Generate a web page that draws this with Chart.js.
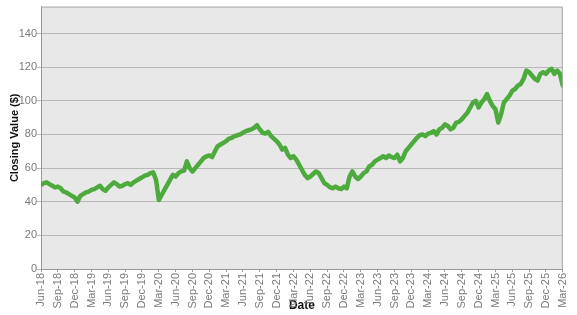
<!DOCTYPE html>
<html>
<head>
<meta charset="utf-8">
<script src="https://cdn.jsdelivr.net/npm/chart.js@4/dist/chart.umd.min.js"></script>
<style>
  html, body { margin: 0; padding: 0; background: #fff; }
  #chart { display: block; }
</style>
</head>
<body>
<canvas id="chart" width="577" height="315"></canvas>
<script>
// ── Data ──────────────────────────────────────────────────────────────
// quarter tick labels, one every 3 months starting Jun-18
const tickLabels = [
  'Jun-18', 'Sep-18', 'Dec-18', 'Mar-19', 'Jun-19', 'Sep-19', 'Dec-19', 'Mar-20',
  'Jun-20', 'Sep-20', 'Dec-20', 'Mar-21', 'Jun-21', 'Sep-21', 'Dec-21', 'Mar-22',
  'Jun-22', 'Sep-22', 'Dec-22', 'Mar-23', 'Jun-23', 'Sep-23', 'Dec-23', 'Mar-24',
  'Jun-24', 'Sep-24', 'Dec-24', 'Mar-25', 'Jun-25', 'Sep-25', 'Dec-25', 'Mar-26',
];

// y-axis tick values
const yTicks = [0, 20, 40, 60, 80, 100, 120, 140];

// closing values, two per month (1st and mid-month), Jun-18 .. Mar-26
const closing2018 = [50, 51, 51.5, 50.5, 49.5, 48.5, 49, 48, 46, 45.5, 44.5, 43.5, 42.5, 40];
const closing2019 = [43.5, 44.5, 45.5, 46, 47, 47.5, 48.5, 49.5, 47.5, 46.5, 48.5, 50,
                     51.5, 50.5, 49, 49.5, 50.5, 51, 50, 51.5, 52.5, 53.5, 54.5, 55.5];
const closing2020 = [56, 57, 57.5, 53, 41, 44, 47, 50, 53, 56, 55, 57,
                     58, 58.5, 64, 60, 58, 60, 62, 64, 66, 67, 67.5, 66.5];
const closing2021 = [70, 73, 74, 75, 76, 77.5, 78, 79, 79.5, 80, 81, 82,
                     82.5, 83, 84, 85.5, 83, 81, 80.5, 81.5, 79, 77.5, 76, 74];
const closing2022 = [71, 72, 68, 66, 67, 65, 62, 59, 56, 54, 55, 56.5,
                     58, 57, 54, 51, 50, 48.5, 48, 49, 48, 47.5, 49, 48];
const closing2023 = [55, 58, 55, 53.5, 55, 57, 58, 61, 62, 64, 65, 66,
                     67, 66, 67.5, 66.5, 66, 68, 64, 66, 70, 72, 74, 76];
const closing2024 = [78, 79.5, 80, 79, 80.5, 81, 82, 80, 83, 84, 86, 85,
                     83, 84, 87, 87.5, 89, 91, 93, 96, 99, 100, 96, 99];
const closing2025 = [101, 104, 100, 97, 95, 87, 92, 99, 101, 103, 106, 107,
                     109, 110, 113, 118, 117, 115, 113, 112, 116, 117, 116, 118];
const closing2026 = [119, 116, 118, 116, 109];

const closing = [].concat(closing2018, closing2019, closing2020, closing2021,
  closing2022, closing2023, closing2024, closing2025, closing2026);

// ── Chart ─────────────────────────────────────────────────────────────

const FONT = "'Liberation Sans', Arial, sans-serif";

const plotFrame = {
  id: 'plotFrame',
  beforeDraw(chart) {
    const { ctx, chartArea: a } = chart;
    ctx.save();
    ctx.fillStyle = '#e8e8e8';
    ctx.fillRect(a.left, a.top, a.right - a.left, a.bottom - a.top);
    ctx.restore();
  },
  afterDraw(chart) {
    const { ctx, chartArea: a } = chart;
    ctx.save();
    ctx.strokeStyle = '#a8a8a8';
    ctx.lineWidth = 1;
    ctx.beginPath();
    ctx.moveTo(a.left, a.top + 0.5);
    ctx.lineTo(a.right - 0.5, a.top + 0.5);
    ctx.lineTo(a.right - 0.5, a.bottom);
    ctx.stroke();
    ctx.restore();
  },
};

new Chart(document.getElementById('chart'), {
  type: 'line',
  data: {
    datasets: [{
      label: 'Closing Value',
      data: closing.map((v, i) => ({ x: i / 2, y: v })),
      borderColor: '#4cab3c',
      borderWidth: 4.5,
      pointRadius: 0,
      tension: 0,
      fill: false,
      borderJoinStyle: 'round',
      borderCapStyle: 'round',
    }],
  },
  options: {
    responsive: false,
    animation: false,
    layout: { padding: { top: 3, right: 4, left: 0, bottom: 0 } },
    plugins: { legend: { display: false }, tooltip: { enabled: false } },
    scales: {
      x: {
        type: 'linear',
        min: 0,
        max: (tickLabels.length - 1) * 3,
        afterFit: s => { s.height = 46; },
        afterBuildTicks: s => {
          s.ticks = tickLabels.map((_, i) => ({ value: i * 3 }));
        },
        grid: { drawOnChartArea: false, drawTicks: true, tickLength: 3, color: '#999' },
        border: { color: '#999' },
        ticks: {
          autoSkip: false,
          minRotation: 90,
          maxRotation: 90,
          padding: 1,
          color: '#7a7a7a',
          font: { family: FONT, size: 11 },
          callback: v => tickLabels[Math.round(v / 3)],
        },
        title: {
          display: true,
          text: 'Date',
          color: '#111',
          font: { family: FONT, size: 12, weight: 'bold' },
          padding: { top: 0, bottom: 2 },
        },
      },
      y: {
        min: 0,
        max: 156,
        afterFit: s => { s.width = 41; },
        afterBuildTicks: s => {
          s.ticks = yTicks.map(v => ({ value: v }));
        },
        grid: { color: '#b8b8b8', tickLength: 4, drawTicks: true },
        border: { color: '#999' },
        ticks: {
          autoSkip: false,
          padding: 0,
          color: '#7a7a7a',
          font: { family: FONT, size: 11 },
        },
        title: {
          display: true,
          text: 'Closing Value ($)',
          color: '#111',
          font: { family: FONT, size: 11, weight: 'bold' },
          padding: { top: 8, bottom: 0 },
        },
      },
    },
  },
  plugins: [plotFrame],
});
</script>
</body>
</html>
